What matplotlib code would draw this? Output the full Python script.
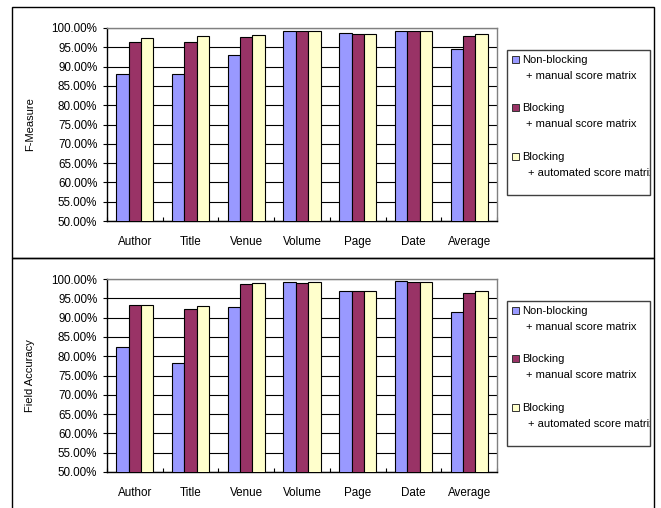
import matplotlib
matplotlib.use("Agg")
import matplotlib.pyplot as plt
from matplotlib.patches import Rectangle
from matplotlib.ticker import FixedLocator, PercentFormatter
import numpy as np

plt.rcParams['font.family'] = ['Liberation Sans', 'DejaVu Sans']

categories = ["Author", "Title", "Venue", "Volume", "Page", "Date", "Average"]
series_names = ["Non-blocking", "Blocking", "Blocking"]
series_sub = ["+ manual score matrix", "+ manual score matrix", "+ automated score matrix"]
colors = ["#9999FF", "#993366", "#FFFFCC"]

# F-Measure (%)
fm_nonblock_manual = [88.2, 88.2, 93.1, 99.3, 98.8, 99.3, 94.6]
fm_block_manual = [96.5, 96.4, 97.7, 99.3, 98.4, 99.3, 97.9]
fm_block_auto = [97.5, 97.9, 98.3, 99.3, 98.4, 99.3, 98.4]

# Field accuracy (%)
fa_nonblock_manual = [82.3, 78.2, 92.8, 99.1, 97.0, 99.4, 91.4]
fa_block_manual = [93.3, 92.2, 98.6, 98.9, 97.0, 99.1, 96.5]
fa_block_auto = [93.3, 93.1, 98.9, 99.1, 97.0, 99.1, 96.8]

y_ticks = list(range(50, 101, 5))

W, H = 661, 508
fig = plt.figure(figsize=(W / 100, H / 100), dpi=100)
fig.patch.set_facecolor("white")


def fx(px):
    return px / W


def fy(py):
    return 1 - py / H


def panel(top_px, ylabel, data):
    left, right, bottom = 107, 497, top_px + 193
    ax = fig.add_axes([fx(left), fy(bottom), fx(right - left), (bottom - top_px) / H])
    n = len(data)
    x = np.arange(len(categories))
    width = 1 / 4.5
    for i, vals in enumerate(data):
        ax.bar(x + (i - (n - 1) / 2) * width, vals, width, color=colors[i],
               edgecolor="black", linewidth=0.8, zorder=3)
    ax.set_xlim(-0.5, len(categories) - 0.5)
    ax.set_ylim(50, 100)
    ax.yaxis.set_major_locator(FixedLocator(y_ticks))
    ax.yaxis.set_major_formatter(PercentFormatter(decimals=2))
    ax.set_xticks(x)
    ax.set_xticklabels(categories)
    ax.xaxis.set_minor_locator(FixedLocator(np.arange(-0.5, len(categories), 1.0)))
    ax.tick_params(axis="x", which="major", length=0, pad=11, labelsize=8.4)
    ax.tick_params(axis="x", which="minor", length=3, direction="in", width=0.8)
    ax.tick_params(axis="y", which="major", length=3, direction="out", width=0.8,
                   pad=4, labelsize=8.4)
    ax.grid(axis="y", color="black", linewidth=0.8, zorder=0)
    for side in ("top", "right"):
        ax.spines[side].set_color("#808080")
        ax.spines[side].set_linewidth(1.0)
    for side in ("left", "bottom"):
        ax.spines[side].set_color("black")
        ax.spines[side].set_linewidth(1.0)
    ax.set_ylabel(ylabel, family=["Liberation Sans Narrow", "Liberation Sans"], fontsize=8)
    ax.yaxis.set_label_coords((35 - left) / (right - left), 0.5)
    return ax


def legend(top_px):
    lx0, lx1, ly0, ly1 = 507, 650, top_px, top_px + 145
    box = Rectangle((fx(lx0), fy(ly1)), fx(lx1 - lx0), (ly1 - ly0) / H,
                    transform=fig.transFigure, facecolor="white",
                    edgecolor="#404040", linewidth=1.0)
    fig.patches.append(box)
    rows = [10, 58, 107]
    for i, (name, sub) in enumerate(zip(series_names, series_sub)):
        yc = top_px + rows[i]
        fig.patches.append(Rectangle((fx(512), fy(yc + 3)), fx(7), 7 / H,
                                     transform=fig.transFigure, facecolor=colors[i],
                                     edgecolor="#333333", linewidth=0.7))
        fig.text(fx(522), fy(yc), name, fontsize=8.0, va="center", ha="left")
        t = fig.text(fx(526 + (2 if i == 2 else 0)), fy(yc + 16), sub, fontsize=8.0,
                     va="center", ha="left")
        t.set_clip_path(box)


# outer frames of the two chart panels
for y0, y1 in [(7, 258), (258, 512)]:
    fig.patches.append(Rectangle((fx(12), fy(y1)), fx(654 - 12), (y1 - y0) / H,
                                 transform=fig.transFigure, facecolor="none",
                                 edgecolor="black", linewidth=1.0))

panel(28, "F-Measure", [fm_nonblock_manual, fm_block_manual, fm_block_auto])
legend(50)
panel(279, "Field Accuracy", [fa_nonblock_manual, fa_block_manual, fa_block_auto])
legend(301)

fig.savefig("out.png", dpi=100)
